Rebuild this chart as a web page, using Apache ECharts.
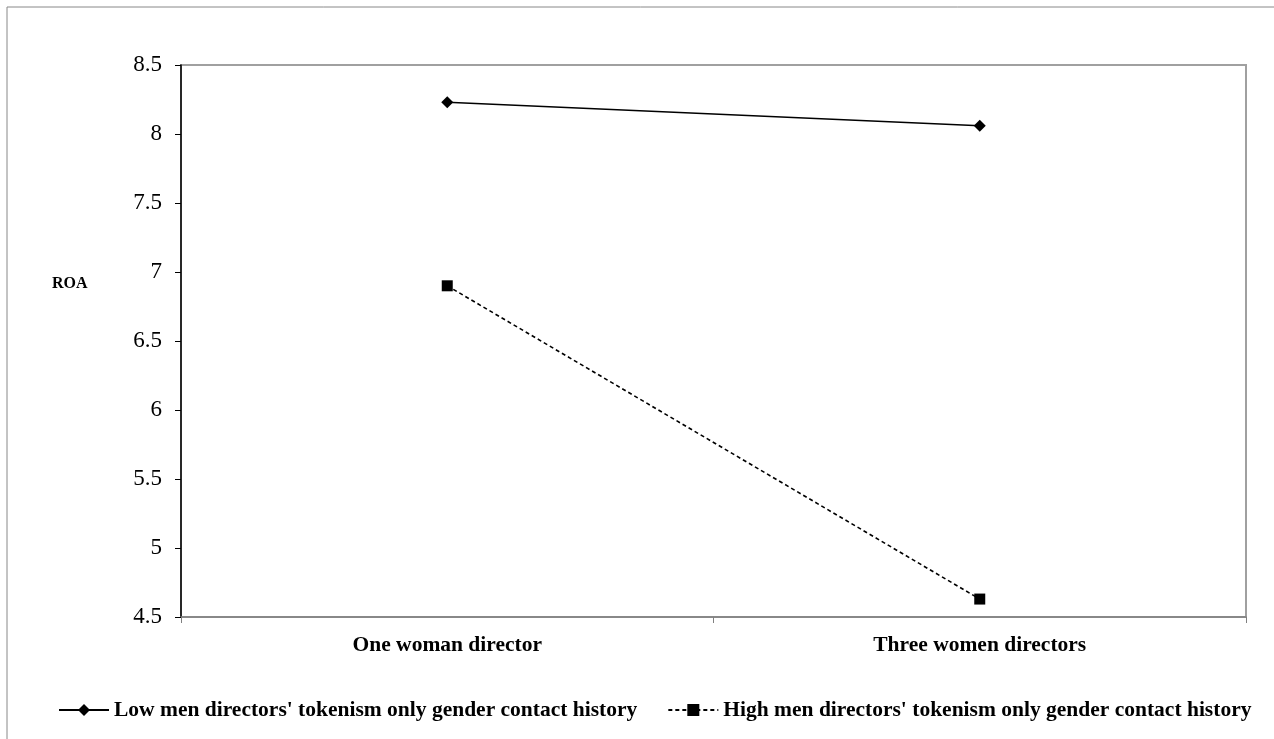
<!DOCTYPE html>
<html><head><meta charset="utf-8">
<script src="https://cdn.jsdelivr.net/npm/echarts@6/dist/echarts.min.js"></script>
<style>html,body{margin:0;padding:0;background:#fff}#c{width:1274px;height:739px}</style>
</head><body><div id="c"></div>
<script>
const categories = ["One woman director", "Three women directors"];
const seriesNames = ["Low men directors' tokenism only gender contact history", "High men directors' tokenism only gender contact history"];
const lowValues = [8.23, 8.06];
const highValues = [6.90, 4.63];
const yTicks = [4.5, 5, 5.5, 6, 6.5, 7, 7.5, 8, 8.5];

const chart = echarts.init(document.getElementById('c'));
const font = 'Liberation Serif, Times New Roman, serif';
chart.setOption({
  animation: false,
  textStyle: { fontFamily: font },
  grid: { left: 181, right: 28, top: 65, bottom: 122, show: true, borderColor: '#a0a0a0', borderWidth: 2 },
  graphic: [
    { type: 'line', shape: { x1: 7, y1: 7, x2: 1274, y2: 7 }, style: { stroke: '#888', lineWidth: 1 } },
    { type: 'line', shape: { x1: 7, y1: 7, x2: 7, y2: 739 }, style: { stroke: '#888', lineWidth: 1 } },
    { type: 'text', left: 52, top: 276, style: { text: 'ROA', font: 'bold 16px ' + font, fill: '#000' } }
  ],
  xAxis: {
    type: 'category', data: categories, boundaryGap: true,
    axisLine: { lineStyle: { color: '#808080', width: 1.5 } },
    axisTick: { show: true, length: 6, lineStyle: { color: '#808080' } },
    axisLabel: { color: '#000', fontWeight: 'bold', fontSize: 21.5, margin: 17, fontFamily: font }
  },
  yAxis: {
    type: 'value', min: 4.5, max: 8.5, interval: 0.5,
    axisLine: { show: true, lineStyle: { color: '#000', width: 1.5 } },
    axisTick: { show: true, length: 6, lineStyle: { color: '#000' } },
    splitLine: { show: false },
    axisLabel: { color: '#000', fontSize: 23, margin: 19, fontFamily: font,
      formatter: v => yTicks.includes(v) ? String(v) : '' }
  },
  legend: {
    bottom: 18, left: 58, padding: 0, itemWidth: 50, itemHeight: 15, itemGap: 30,
    textStyle: { color: '#000', fontWeight: 'bold', fontSize: 21.5, fontFamily: font },
    data: seriesNames
  },
  series: [
    { name: seriesNames[0], type: 'line', data: lowValues, symbol: 'diamond', symbolSize: 12,
      itemStyle: { color: '#000' }, lineStyle: { color: '#000', width: 1.6, type: 'solid' } },
    { name: seriesNames[1], type: 'line', data: highValues, symbol: 'rect', symbolSize: 11,
      itemStyle: { color: '#000' }, lineStyle: { color: '#000', width: 1.6, type: [4, 3] } }
  ]
});
</script></body></html>
